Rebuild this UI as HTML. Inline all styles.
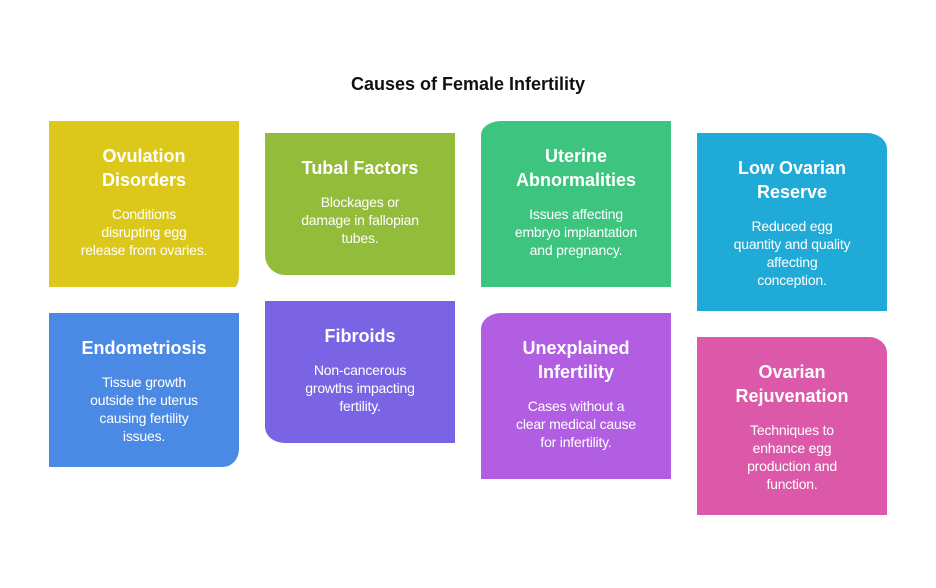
<!DOCTYPE html>
<html><head><meta charset="utf-8"><style>
body{margin:0;width:936px;height:588px;background:#fff;position:relative;font-family:"Liberation Sans",Arial,sans-serif;overflow:hidden}
h1{position:absolute;top:74px;left:0;width:936px;text-align:center;font-size:18px;font-weight:bold;margin:0;color:#111}
.c{position:absolute;width:190px;color:#fff;text-align:center;box-sizing:border-box;padding:23px 0 0}
.t{font-size:18px;font-weight:bold;line-height:24px;white-space:nowrap}
.d{font-size:14px;line-height:18px;margin-top:13px;white-space:nowrap;letter-spacing:-0.2px}
</style></head><body>
<h1>Causes of Female Infertility</h1>
<div class="c" style="left:49px;top:121px;height:166px;background:#dcc81a;border-bottom-right-radius:4px 14px"><div class="t">Ovulation<br>Disorders</div><div class="d">Conditions<br>disrupting egg<br>release from ovaries.</div></div>
<div class="c" style="left:265px;top:133px;height:142px;background:#93bc3a;border-bottom-left-radius:20px 20px"><div class="t">Tubal Factors</div><div class="d">Blockages or<br>damage in fallopian<br>tubes.</div></div>
<div class="c" style="left:481px;top:121px;height:166px;background:#3dc47f;border-top-left-radius:20px 14px"><div class="t">Uterine<br>Abnormalities</div><div class="d">Issues affecting<br>embryo implantation<br>and pregnancy.</div></div>
<div class="c" style="left:697px;top:133px;height:178px;background:#20aad8;border-top-right-radius:20px 16px"><div class="t">Low Ovarian<br>Reserve</div><div class="d">Reduced egg<br>quantity and quality<br>affecting<br>conception.</div></div>
<div class="c" style="left:49px;top:313px;height:154px;background:#4a8ae4;border-bottom-right-radius:16px 18px"><div class="t">Endometriosis</div><div class="d">Tissue growth<br>outside the uterus<br>causing fertility<br>issues.</div></div>
<div class="c" style="left:265px;top:301px;height:142px;background:#7b64e4;border-bottom-left-radius:20px 16px"><div class="t">Fibroids</div><div class="d">Non-cancerous<br>growths impacting<br>fertility.</div></div>
<div class="c" style="left:481px;top:313px;height:166px;background:#b25ee2;border-top-left-radius:20px 16px"><div class="t">Unexplained<br>Infertility</div><div class="d">Cases without a<br>clear medical cause<br>for infertility.</div></div>
<div class="c" style="left:697px;top:337px;height:178px;background:#dc58a8;border-top-right-radius:18px 16px"><div class="t">Ovarian<br>Rejuvenation</div><div class="d">Techniques to<br>enhance egg<br>production and<br>function.</div></div>
</body></html>
